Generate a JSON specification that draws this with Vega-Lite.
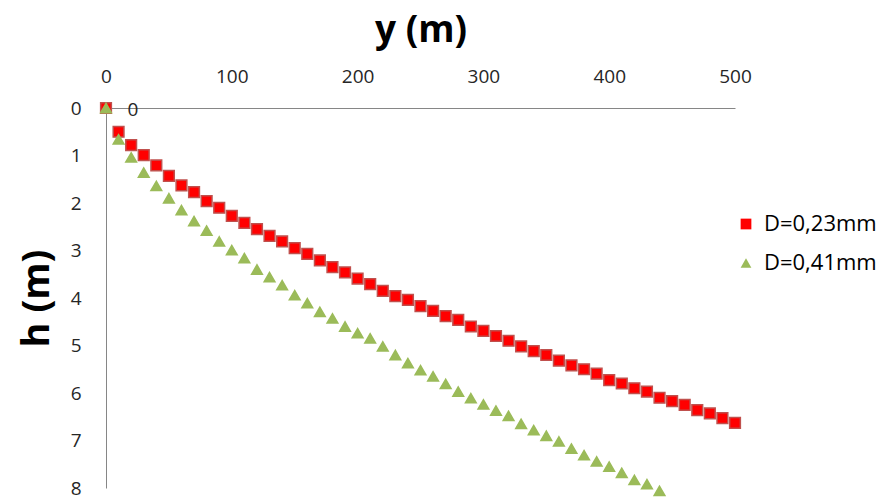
{
  "$schema": "https://vega.github.io/schema/vega-lite/v6.json",
  "width": 629,
  "height": 380,
  "autosize": {"type": "none"},
  "padding": {"left": 106, "top": 108, "right": 147, "bottom": 11},
  "config": {"view": {"stroke": null}, "font": "Open Sans"},
  "datasets": {
    "pts": [
      {"y": 0, "h": 0, "s": "D=0,23mm"},
      {"y": 10, "h": 0.50, "s": "D=0,23mm"},
      {"y": 20, "h": 0.78, "s": "D=0,23mm"},
      {"y": 30, "h": 0.99, "s": "D=0,23mm"},
      {"y": 40, "h": 1.21, "s": "D=0,23mm"},
      {"y": 50, "h": 1.43, "s": "D=0,23mm"},
      {"y": 60, "h": 1.63, "s": "D=0,23mm"},
      {"y": 70, "h": 1.77, "s": "D=0,23mm"},
      {"y": 80, "h": 1.96, "s": "D=0,23mm"},
      {"y": 90, "h": 2.10, "s": "D=0,23mm"},
      {"y": 100, "h": 2.27, "s": "D=0,23mm"},
      {"y": 110, "h": 2.42, "s": "D=0,23mm"},
      {"y": 120, "h": 2.55, "s": "D=0,23mm"},
      {"y": 130, "h": 2.69, "s": "D=0,23mm"},
      {"y": 140, "h": 2.81, "s": "D=0,23mm"},
      {"y": 150, "h": 2.95, "s": "D=0,23mm"},
      {"y": 160, "h": 3.07, "s": "D=0,23mm"},
      {"y": 170, "h": 3.21, "s": "D=0,23mm"},
      {"y": 180, "h": 3.35, "s": "D=0,23mm"},
      {"y": 190, "h": 3.46, "s": "D=0,23mm"},
      {"y": 200, "h": 3.59, "s": "D=0,23mm"},
      {"y": 210, "h": 3.71, "s": "D=0,23mm"},
      {"y": 220, "h": 3.85, "s": "D=0,23mm"},
      {"y": 230, "h": 3.96, "s": "D=0,23mm"},
      {"y": 240, "h": 4.04, "s": "D=0,23mm"},
      {"y": 250, "h": 4.17, "s": "D=0,23mm"},
      {"y": 260, "h": 4.27, "s": "D=0,23mm"},
      {"y": 270, "h": 4.38, "s": "D=0,23mm"},
      {"y": 280, "h": 4.46, "s": "D=0,23mm"},
      {"y": 290, "h": 4.60, "s": "D=0,23mm"},
      {"y": 300, "h": 4.69, "s": "D=0,23mm"},
      {"y": 310, "h": 4.80, "s": "D=0,23mm"},
      {"y": 320, "h": 4.90, "s": "D=0,23mm"},
      {"y": 330, "h": 5.02, "s": "D=0,23mm"},
      {"y": 340, "h": 5.12, "s": "D=0,23mm"},
      {"y": 350, "h": 5.20, "s": "D=0,23mm"},
      {"y": 360, "h": 5.32, "s": "D=0,23mm"},
      {"y": 370, "h": 5.42, "s": "D=0,23mm"},
      {"y": 380, "h": 5.50, "s": "D=0,23mm"},
      {"y": 390, "h": 5.59, "s": "D=0,23mm"},
      {"y": 400, "h": 5.73, "s": "D=0,23mm"},
      {"y": 410, "h": 5.80, "s": "D=0,23mm"},
      {"y": 420, "h": 5.90, "s": "D=0,23mm"},
      {"y": 430, "h": 5.97, "s": "D=0,23mm"},
      {"y": 440, "h": 6.10, "s": "D=0,23mm"},
      {"y": 450, "h": 6.17, "s": "D=0,23mm"},
      {"y": 460, "h": 6.25, "s": "D=0,23mm"},
      {"y": 470, "h": 6.36, "s": "D=0,23mm"},
      {"y": 480, "h": 6.43, "s": "D=0,23mm"},
      {"y": 490, "h": 6.53, "s": "D=0,23mm"},
      {"y": 500, "h": 6.63, "s": "D=0,23mm"},
      {"y": 0, "h": 0, "s": "D=0,41mm"},
      {"y": 10, "h": 0.66, "s": "D=0,41mm"},
      {"y": 20, "h": 1.04, "s": "D=0,41mm"},
      {"y": 30, "h": 1.36, "s": "D=0,41mm"},
      {"y": 40, "h": 1.64, "s": "D=0,41mm"},
      {"y": 50, "h": 1.90, "s": "D=0,41mm"},
      {"y": 60, "h": 2.15, "s": "D=0,41mm"},
      {"y": 70, "h": 2.38, "s": "D=0,41mm"},
      {"y": 80, "h": 2.58, "s": "D=0,41mm"},
      {"y": 90, "h": 2.81, "s": "D=0,41mm"},
      {"y": 100, "h": 2.99, "s": "D=0,41mm"},
      {"y": 110, "h": 3.16, "s": "D=0,41mm"},
      {"y": 120, "h": 3.40, "s": "D=0,41mm"},
      {"y": 130, "h": 3.56, "s": "D=0,41mm"},
      {"y": 140, "h": 3.73, "s": "D=0,41mm"},
      {"y": 150, "h": 3.94, "s": "D=0,41mm"},
      {"y": 160, "h": 4.11, "s": "D=0,41mm"},
      {"y": 170, "h": 4.29, "s": "D=0,41mm"},
      {"y": 180, "h": 4.43, "s": "D=0,41mm"},
      {"y": 190, "h": 4.60, "s": "D=0,41mm"},
      {"y": 200, "h": 4.74, "s": "D=0,41mm"},
      {"y": 210, "h": 4.85, "s": "D=0,41mm"},
      {"y": 220, "h": 5.02, "s": "D=0,41mm"},
      {"y": 230, "h": 5.20, "s": "D=0,41mm"},
      {"y": 240, "h": 5.37, "s": "D=0,41mm"},
      {"y": 250, "h": 5.52, "s": "D=0,41mm"},
      {"y": 260, "h": 5.65, "s": "D=0,41mm"},
      {"y": 270, "h": 5.81, "s": "D=0,41mm"},
      {"y": 280, "h": 5.97, "s": "D=0,41mm"},
      {"y": 290, "h": 6.11, "s": "D=0,41mm"},
      {"y": 300, "h": 6.24, "s": "D=0,41mm"},
      {"y": 310, "h": 6.37, "s": "D=0,41mm"},
      {"y": 320, "h": 6.48, "s": "D=0,41mm"},
      {"y": 330, "h": 6.65, "s": "D=0,41mm"},
      {"y": 340, "h": 6.78, "s": "D=0,41mm"},
      {"y": 350, "h": 6.90, "s": "D=0,41mm"},
      {"y": 360, "h": 7.02, "s": "D=0,41mm"},
      {"y": 370, "h": 7.17, "s": "D=0,41mm"},
      {"y": 380, "h": 7.31, "s": "D=0,41mm"},
      {"y": 390, "h": 7.44, "s": "D=0,41mm"},
      {"y": 400, "h": 7.55, "s": "D=0,41mm"},
      {"y": 410, "h": 7.68, "s": "D=0,41mm"},
      {"y": 420, "h": 7.83, "s": "D=0,41mm"},
      {"y": 430, "h": 7.92, "s": "D=0,41mm"},
      {"y": 440, "h": 8.06, "s": "D=0,41mm"}
    ],
    "lbl": [{"y": 0, "h": 0, "t": "0"}]
  },
  "layer": [
    {
      "data": {"name": "pts"},
      "mark": {"type": "point", "filled": true, "opacity": 1, "strokeWidth": 1.5, "strokeOpacity": 1, "size": 115, "clip": false},
      "encoding": {
        "x": {
          "field": "y", "type": "quantitative",
          "scale": {"domain": [0, 500], "nice": false, "zero": true},
          "axis": {
            "orient": "top", "values": [0, 100, 200, 300, 400, 500], "title": "y (m)",
            "grid": false, "ticks": false, "tickSize": 0, "labelPadding": 22, "labelFlush": false,
            "domainColor": "#868686", "domainWidth": 1,
            "labelFont": "Open Sans", "labelFontSize": 19, "labelColor": "#262626",
            "titleFont": "Open Sans", "titleFontSize": 37, "titleFontWeight": "bold",
            "titleColor": "#000000", "titlePadding": 18
          }
        },
        "y": {
          "field": "h", "type": "quantitative",
          "scale": {"domain": [0, 8], "reverse": true, "nice": false},
          "axis": {
            "values": [0, 1, 2, 3, 4, 5, 6, 7, 8], "title": "h (m)", "labelFlush": false,
            "grid": false, "ticks": false, "tickSize": 0, "labelPadding": 25,
            "domainColor": "#868686", "domainWidth": 1,
            "labelFont": "Open Sans", "labelFontSize": 19, "labelColor": "#262626",
            "titleFont": "Open Sans", "titleFontSize": 38, "titleFontWeight": "bold",
            "titleColor": "#000000", "titlePadding": 14
          }
        },
        "shape": {
          "field": "s", "type": "nominal", "title": null,
          "scale": {"domain": ["D=0,23mm", "D=0,41mm"], "range": ["square", "triangle-up"]},
          "legend": {
            "orient": "none", "legendX": 629, "legendY": 105, "title": null,
            "labelFont": "Open Sans", "labelFontSize": 22, "labelColor": "#000000",
            "rowPadding": 17, "symbolSize": 115, "symbolStrokeWidth": 0, "labelOffset": 7
          }
        },
        "color": {
          "field": "s", "type": "nominal", "title": null,
          "scale": {"domain": ["D=0,23mm", "D=0,41mm"], "range": ["#FF0000", "#9BBB59"]},
          "legend": {
            "orient": "none", "legendX": 629, "legendY": 105, "title": null,
            "labelFont": "Open Sans", "labelFontSize": 22, "labelColor": "#000000",
            "rowPadding": 17, "symbolSize": 115, "symbolStrokeWidth": 0, "labelOffset": 7
          }
        },
        "stroke": {
          "field": "s", "type": "nominal",
          "scale": {"domain": ["D=0,23mm", "D=0,41mm"], "range": ["#C0504D", "#9BBB59"]},
          "legend": null
        }
      }
    },
    {
      "data": {"name": "lbl"},
      "mark": {"type": "text", "dx": 27, "dy": 2, "fontSize": 19, "font": "Open Sans", "color": "#262626"},
      "encoding": {
        "x": {"field": "y", "type": "quantitative"},
        "y": {"field": "h", "type": "quantitative"},
        "text": {"field": "t"}
      }
    }
  ]
}
